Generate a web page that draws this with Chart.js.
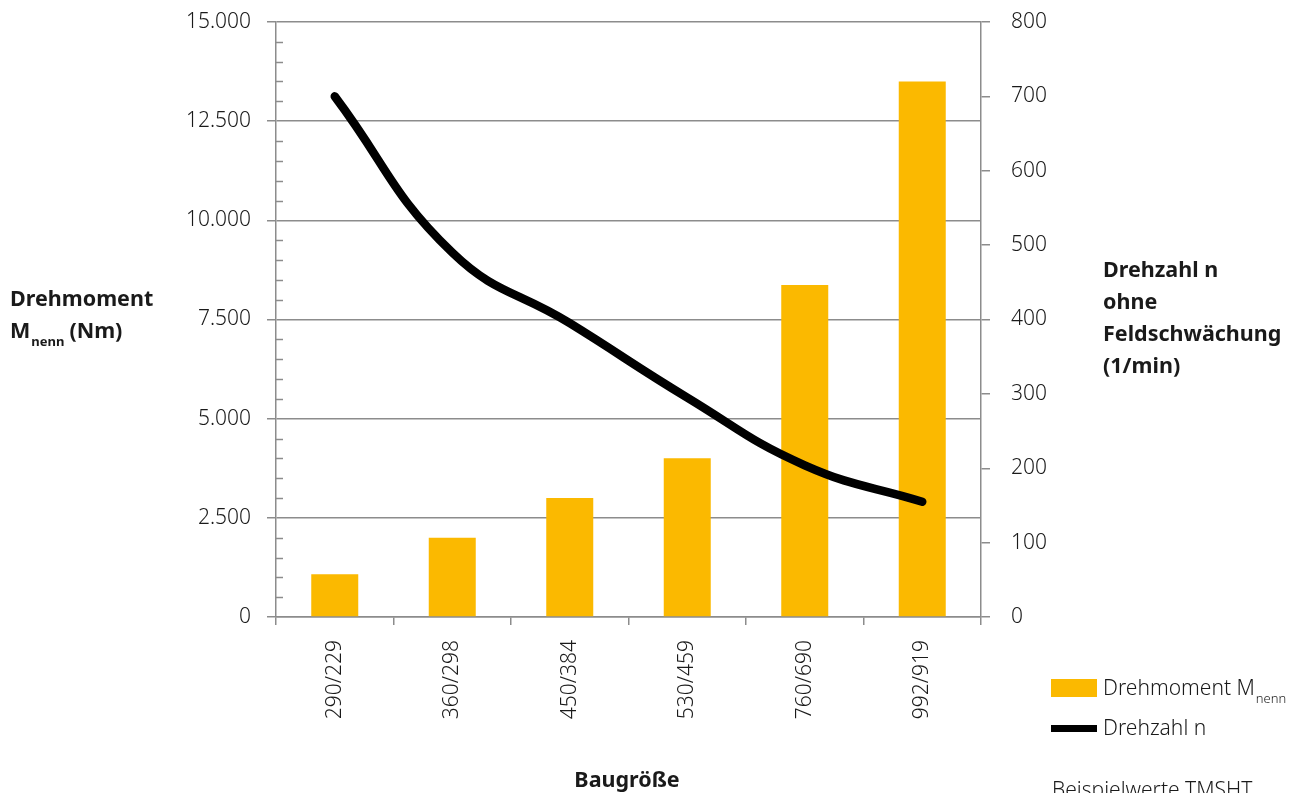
<!DOCTYPE html>
<html><head><meta charset="utf-8">
<script src="https://cdn.jsdelivr.net/npm/chart.js@4.4.1/dist/chart.umd.min.js"></script>
<style>html,body{margin:0;padding:0;background:#fff;overflow:hidden}#wrap{width:1301px;height:793px;position:relative}</style>
</head><body><div id="wrap"><canvas id="c" width="1301" height="793"></canvas></div>
<script>
const categories = ['290/229', '360/298', '450/384', '530/459', '760/690', '992/919'];
const torqueValues = [1080, 2000, 3000, 4000, 8370, 13500];
const speedValues = [700, 490, 395, 295, 204, 155];
const leftMinorTicks = [500,1000,1500,2000,3000,3500,4000,4500,5500,6000,6500,7000,8000,8500,9000,9500,10500,11000,11500,12000,13000,13500,14000,14500];

const GRID = '#8c8c8c';
const TEXT = '#1a1a1a';
const BAR = '#fbb900';
const FONT = "'Noto Sans', 'Open Sans', sans-serif";

function fmtDE(v){ return String(v).replace(/\B(?=(\d{3})+(?!\d))/g, '.'); }

const extras = {
  id: 'extras',
  afterDraw(chart){
    const ctx = chart.ctx;
    const y = chart.scales.y;
    ctx.save();
    ctx.strokeStyle = GRID;
    ctx.lineWidth = 1.5;
    leftMinorTicks.forEach(v => {
      const py = Math.round(y.getPixelForValue(v)) + 0.5;
      ctx.beginPath(); ctx.moveTo(y.right, py); ctx.lineTo(y.right + 7, py); ctx.stroke();
    });
    ctx.restore();

    ctx.save();
    ctx.fillStyle = TEXT;
    ctx.textBaseline = 'alphabetic';
    ctx.textAlign = 'left';
    ctx.font = "bold 21.5px " + FONT;
    ctx.fillText('Drehmoment', 10, 306);
    ctx.fillText('M', 10, 338);
    let w = ctx.measureText('M').width;
    ctx.font = "bold 13px " + FONT;
    ctx.fillText('nenn', 10 + w + 1, 346);
    let w2 = ctx.measureText('nenn').width;
    ctx.font = "bold 21.5px " + FONT;
    ctx.fillText('(Nm)', 10 + w + w2 + 6, 338);
    ['Drehzahl n', 'ohne', 'Feldschwächung', '(1/min)'].forEach((t, i) => {
      ctx.fillText(t, 1103, 277 + i * 32);
    });
    ctx.textAlign = 'center';
    ctx.fillText('Baugröße', 627, 787);
    ctx.textAlign = 'left';
    ctx.fillStyle = BAR;
    ctx.fillRect(1051, 679, 46, 18);
    ctx.fillStyle = '#000';
    ctx.fillRect(1051, 725, 46, 7);
    ctx.fillStyle = TEXT;
    ctx.font = "300 21px " + FONT;
    ctx.fillText('Drehmoment M', 1103, 695);
    const lw = ctx.measureText('Drehmoment M').width;
    ctx.font = "300 13px " + FONT;
    ctx.fillText('nenn', 1103 + lw + 1, 703);
    ctx.font = "300 21px " + FONT;
    ctx.fillText('Drehzahl n', 1103, 735);
    ctx.fillText('Beispielwerte TMSHT', 1052, 797);
    ctx.restore();
  }
};

new Chart(document.getElementById('c'), {
  data: {
    labels: categories,
    datasets: [
      {
        type: 'line', label: 'Drehzahl n', data: speedValues, yAxisID: 'y1', order: 0,
        borderColor: '#000', borderWidth: 8.5, borderCapStyle: 'round', borderJoinStyle: 'round',
        pointRadius: 0, tension: 0.45, fill: false
      },
      {
        type: 'bar', label: 'Drehmoment Mnenn', data: torqueValues, yAxisID: 'y', order: 1,
        backgroundColor: BAR, borderWidth: 0, barPercentage: 0.4, categoryPercentage: 1
      }
    ]
  },
  options: {
    responsive: false, animation: false, devicePixelRatio: 1,
    layout: { padding: { top: 22, left: 0, right: 0, bottom: 0 } },
    plugins: { legend: { display: false }, tooltip: { enabled: false } },
    scales: {
      x: {
        offset: true,
        afterFit(s){ s.height = 176; s.paddingLeft = 0; s.paddingRight = 0; },
        grid: { offset: true, drawOnChartArea: false, drawTicks: true, tickLength: 8, color: GRID, lineWidth: 1.5 },
        border: { color: GRID, width: 1.5 },
        ticks: { minRotation: 90, maxRotation: 90, padding: 15, color: TEXT, font: { family: FONT, size: 21, weight: '300' } }
      },
      y: {
        position: 'left', min: 0, max: 15000,
        afterFit(s){ s.width = 276; s.paddingTop = 0; s.paddingBottom = 0; },
        grid: { color: GRID, lineWidth: 1.5, tickLength: 9, drawTicks: true },
        border: { color: GRID, width: 1.5 },
        ticks: { stepSize: 2500, padding: 16, color: TEXT, font: { family: FONT, size: 21, weight: '300' }, callback: v => fmtDE(v) }
      },
      y1: {
        position: 'right', min: 0, max: 800,
        afterFit(s){ s.width = 320; s.paddingTop = 0; s.paddingBottom = 0; },
        grid: { drawOnChartArea: false, color: GRID, lineWidth: 1.5, tickLength: 9, drawTicks: true },
        border: { color: GRID, width: 1.5 },
        ticks: { stepSize: 100, padding: 21, color: TEXT, font: { family: FONT, size: 21, weight: '300' } }
      }
    }
  },
  plugins: [extras]
});
</script>
</body></html>
